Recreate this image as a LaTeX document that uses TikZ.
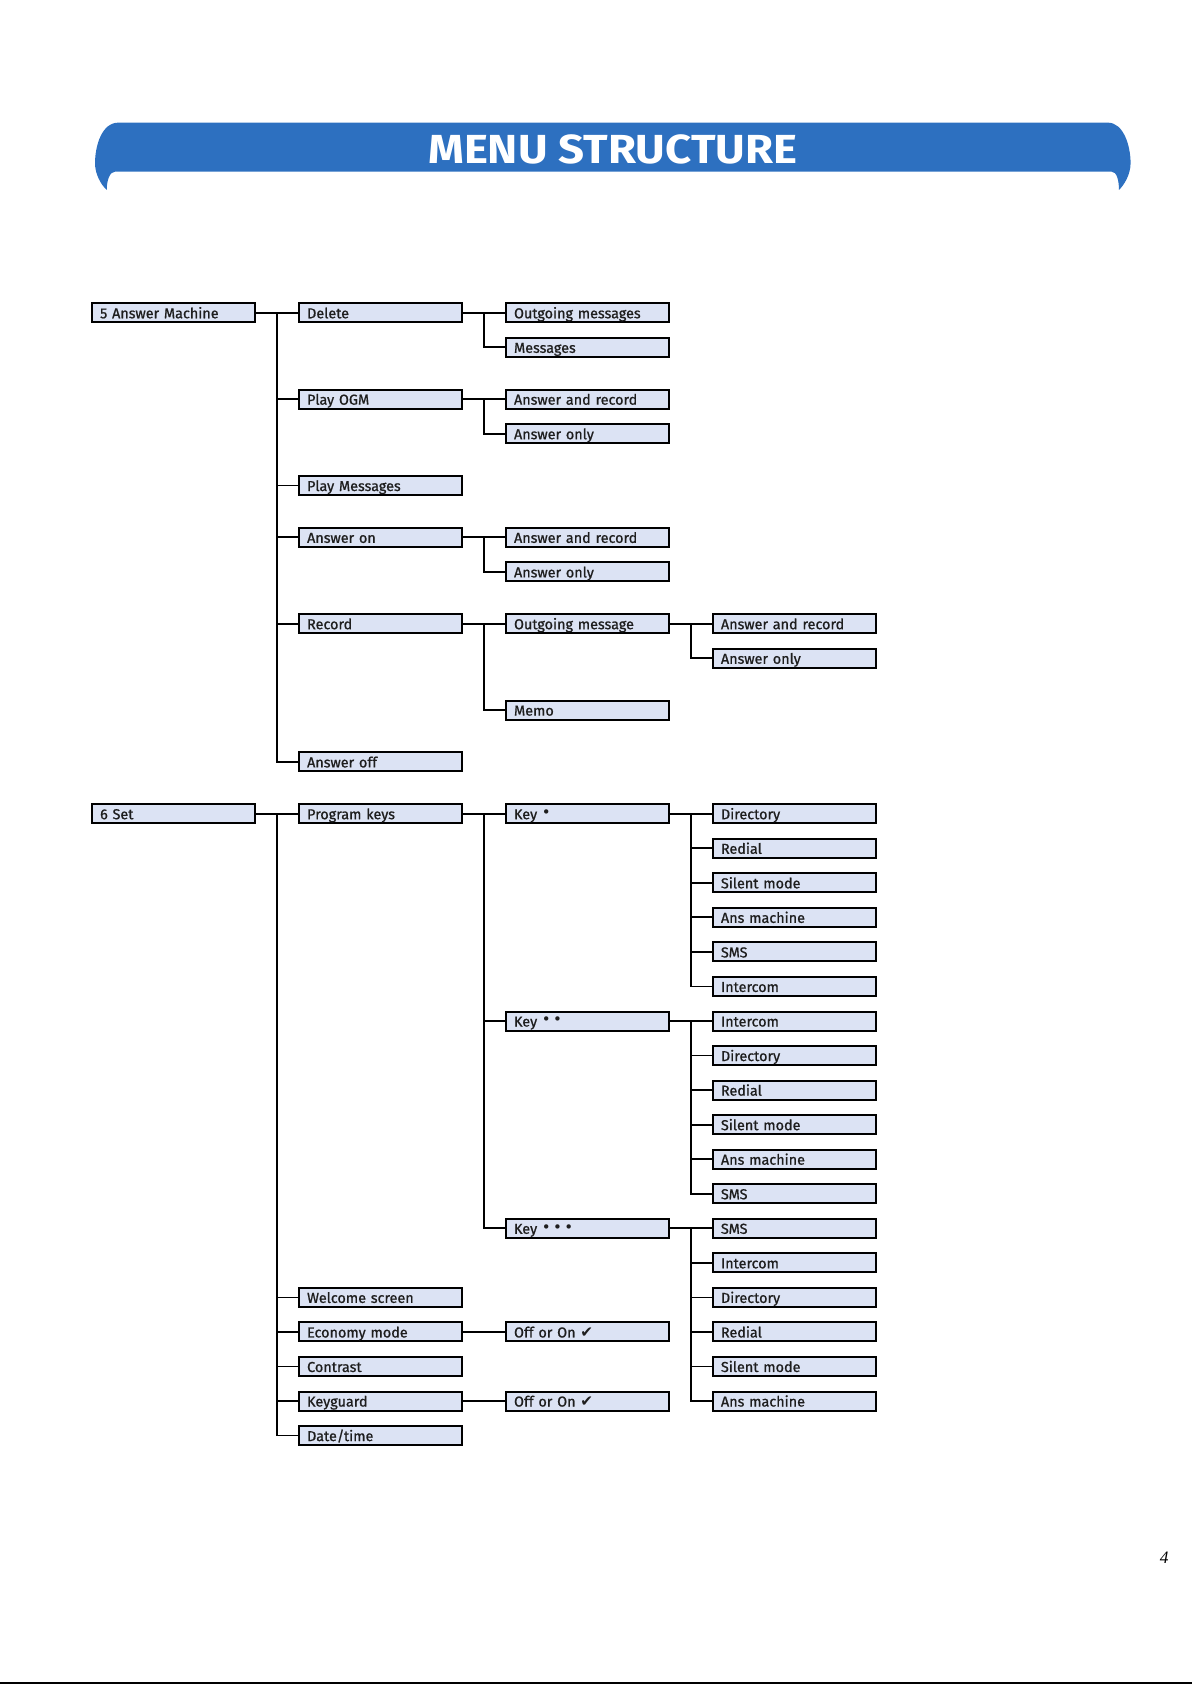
\documentclass[tikz,border=0pt]{standalone}
\usepackage{fontspec}
\setmainfont{Fira Sans}
\newfontfamily\boxfont{Fira Sans}[FakeBold=0.9]
\newfontfamily\symfont{DejaVu Sans}
\newfontfamily\pnumfont{Liberation Serif}
\usetikzlibrary{calc}
\definecolor{boxblue}{RGB}{220,227,244}
\definecolor{bannerblue}{RGB}{45,112,192}
\definecolor{boxtext}{RGB}{30,30,30}
\newcommand\mkbox[4]{\node[mbx] (#1) at (#2,{291+16.07*#3}) {#4};}
\newcommand\mlink[2]{\draw[conn] (#1.east) -| ($(#1.east)!.5!(#2.west)$) |- (#2.west);}
\newcommand\kdot{\raisebox{0.9pt}{\symfont\fontsize{7.5}{8}\selectfont •}}
\newcommand\okmark{{\symfont\fontsize{7.6}{8}\selectfont ✔}}
\begin{document}
\begin{tikzpicture}[x=0.53745pt,y=-0.53745pt,
  mbx/.style={draw=black, line width=1pt, fill=boxblue, text=boxtext,
    minimum width=81.4pt, minimum height=9.5pt, inner xsep=4pt, inner ysep=0.5pt,
    text width=73.4pt, align=left, text height=7pt, text depth=1.5pt,
    font=\boxfont\fontsize{7.2}{8}\selectfont},
  conn/.style={draw=black, line width=0.9pt}]
\useasboundingbox (0,0) rectangle (1109,1567.6);
% banner
\fill[bannerblue] (110,114.1) -- (1030.7,114.1)
  .. controls (1045,114.1) and (1051.8,135) .. (1051.8,152)
  .. controls (1051.8,162) and (1046,172) .. (1041,176.7)
  .. controls (1041,168) and (1039,159.7) .. (1034.2,159.7)
  -- (107,159.7)
  .. controls (102,159.7) and (99.3,168) .. (99.3,176.7)
  .. controls (94,172) and (88.4,162) .. (88.4,152)
  .. controls (88.4,135) and (95,114.1) .. (110,114.1) -- cycle;
\node[text=white, font=\fontsize{20.3}{22}\bfseries] (title) at (570,139) {\scalebox{1.12}[1]{MENU STRUCTURE}};
% column 0
\mkbox{am}{161.4}{0}{5 Answer Machine}
\mkbox{set}{161.4}{29}{6 Set}
% column 1
\mkbox{del}{354}{0}{Delete}
\mkbox{pogm}{354}{5}{Play OGM}
\mkbox{pmsg}{354}{10}{Play Messages}
\mkbox{aon}{354}{13}{Answer on}
\mkbox{rec}{354}{18}{Record}
\mkbox{aoff}{354}{26}{Answer off}
\mkbox{pk}{354}{29}{Program keys}
\mkbox{wel}{354}{57}{Welcome screen}
\mkbox{eco}{354}{59}{Economy mode}
\mkbox{con}{354}{61}{Contrast}
\mkbox{kg}{354}{63}{Keyguard}
\mkbox{dt}{354}{65}{Date/time}
% column 2
\mkbox{om1}{546.5}{0}{Outgoing messages}
\mkbox{msg}{546.5}{2}{Messages}
\mkbox{ar1}{546.5}{5}{Answer and record}
\mkbox{ao1}{546.5}{7}{Answer only}
\mkbox{ar2}{546.5}{13}{Answer and record}
\mkbox{ao2}{546.5}{15}{Answer only}
\mkbox{om2}{546.5}{18}{Outgoing message}
\mkbox{memo}{546.5}{23}{Memo}
\mkbox{k1}{546.5}{29}{Key \kdot}
\mkbox{k2}{546.5}{41}{Key \kdot\,\kdot}
\mkbox{k3}{546.5}{53}{Key \kdot\,\kdot\,\kdot}
\mkbox{oo1}{546.5}{59}{Off or On \okmark}
\mkbox{oo2}{546.5}{63}{Off or On \okmark}
% column 3
\mkbox{ar3}{739}{18}{Answer and record}
\mkbox{ao3}{739}{20}{Answer only}
\mkbox{d1}{739}{29}{Directory}
\mkbox{r1}{739}{31}{Redial}
\mkbox{s1}{739}{33}{Silent mode}
\mkbox{a1}{739}{35}{Ans machine}
\mkbox{m1}{739}{37}{SMS}
\mkbox{i1}{739}{39}{Intercom}
\mkbox{i2}{739}{41}{Intercom}
\mkbox{d2}{739}{43}{Directory}
\mkbox{r2}{739}{45}{Redial}
\mkbox{s2}{739}{47}{Silent mode}
\mkbox{a2}{739}{49}{Ans machine}
\mkbox{m2}{739}{51}{SMS}
\mkbox{m3}{739}{53}{SMS}
\mkbox{i3}{739}{55}{Intercom}
\mkbox{d3}{739}{57}{Directory}
\mkbox{r3}{739}{59}{Redial}
\mkbox{s3}{739}{61}{Silent mode}
\mkbox{a3}{739}{63}{Ans machine}
% connectors
\foreach \c in {del,pogm,pmsg,aon,rec,aoff} {\mlink{am}{\c}}
\foreach \c in {om1,msg} {\mlink{del}{\c}}
\foreach \c in {ar1,ao1} {\mlink{pogm}{\c}}
\foreach \c in {ar2,ao2} {\mlink{aon}{\c}}
\foreach \c in {om2,memo} {\mlink{rec}{\c}}
\foreach \c in {ar3,ao3} {\mlink{om2}{\c}}
\foreach \c in {pk,wel,eco,con,kg,dt} {\mlink{set}{\c}}
\foreach \c in {k1,k2,k3} {\mlink{pk}{\c}}
\foreach \c in {d1,r1,s1,a1,m1,i1} {\mlink{k1}{\c}}
\foreach \c in {i2,d2,r2,s2,a2,m2} {\mlink{k2}{\c}}
\foreach \c in {m3,i3,d3,r3,s3,a3} {\mlink{k3}{\c}}
\mlink{eco}{oo1}
\mlink{kg}{oo2}
% page number and bottom rule
\node[font=\pnumfont\itshape\fontsize{8.7}{10}\selectfont] (pnum) at (1083,1449) {4};
\coordinate (bl) at (0,1566);
\coordinate (br) at (1109,1566);
\draw[line width=1pt] (bl) -- (br);
\end{tikzpicture}
\end{document}
